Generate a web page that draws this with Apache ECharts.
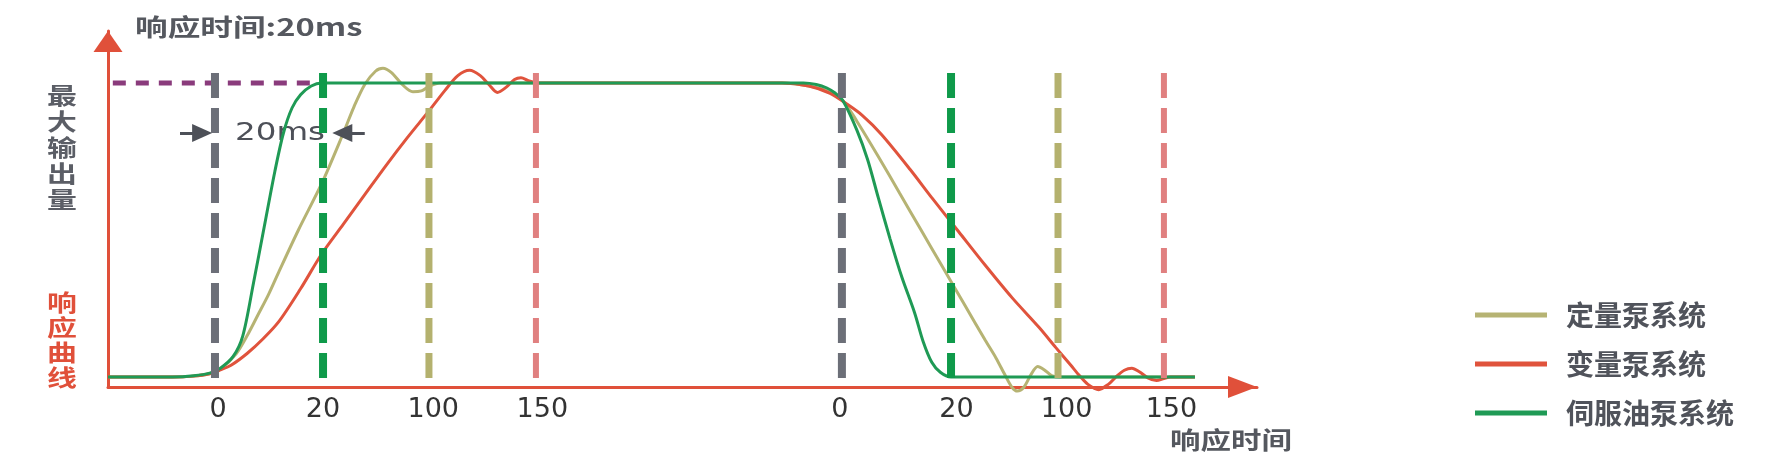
<!DOCTYPE html>
<html><head><meta charset="utf-8">
<script src="https://cdn.jsdelivr.net/npm/echarts@6/dist/echarts.min.js"></script>
<style>html,body{margin:0;padding:0;background:#fff}#c{width:1766px;height:464px}</style>
</head><body><div id="c"></div>
<script>
// ---------- data ----------
const seriesNames = ['定量泵系统', '变量泵系统', '伺服油泵系统'];
const xTickValues = [1.03, 2.01, 3.04, 4.06, 6.84, 7.93, 8.96, 9.94];
const xTickLabels = ['0', '20', '100', '150', '0', '20', '100', '150'];
const fixedPump = [[0,0],[0.6,0],[0.8,0.3],[0.95,1.1],[1.05,2.6],[1.2,8],[1.3,14],[1.4,21],[1.5,28],[1.6,36],[1.78,50],[2.0,66],[2.2,83],[2.3,92],[2.4,99.5],[2.5,104],[2.57,105],[2.65,103.5],[2.75,99.5],[2.85,97],[2.93,97.3],[3.0,98.8],[3.1,100],[6.3,100],[6.55,99],[6.75,97],[6.87,94],[7.0,87],[7.2,75],[7.4,62.5],[7.6,50],[7.8,37.5],[8.0,25],[8.2,12.5],[8.3,6.5],[8.38,1],[8.45,-3.5],[8.5,-4.8],[8.56,-3.5],[8.63,1],[8.69,3.6],[8.75,2.5],[8.82,0.5],[8.9,0],[10.16,0]];
const variablePump = [[0,0],[0.6,0],[0.8,0.3],[0.95,1.1],[1.05,2.4],[1.15,4],[1.3,8],[1.45,13],[1.6,19],[1.8,30],[2.0,42],[2.2,52],[2.4,62],[2.6,72],[2.8,81.5],[3.0,90.5],[3.15,97.5],[3.27,102.5],[3.38,104.3],[3.48,102.5],[3.56,99.5],[3.64,96.8],[3.72,98.5],[3.8,101.2],[3.86,101.8],[3.93,100.8],[4.02,100],[6.3,100],[6.55,99],[6.75,96.5],[6.9,93],[7.05,89],[7.23,82.5],[7.5,70.5],[7.7,61],[7.95,49.5],[8.2,38],[8.45,27],[8.7,17],[8.86,10],[9.0,4],[9.08,0.5],[9.16,-2.5],[9.26,-4.3],[9.35,-2.5],[9.42,0],[9.5,2.3],[9.57,3],[9.64,1.8],[9.72,-0.3],[9.8,-1.2],[9.87,-0.5],[9.93,0],[10.16,0]];
const servoPump = [[0,0],[0.6,0],[0.8,0.4],[0.95,1.3],[1.05,3],[1.17,7],[1.26,14],[1.36,32],[1.46,51],[1.56,70],[1.64,83],[1.72,91.5],[1.8,96],[1.9,99],[2.0,100],[6.5,100],[6.62,99.5],[6.72,98.3],[6.8,96.5],[6.87,94],[7.0,84],[7.1,74],[7.2,61],[7.31,47],[7.42,34],[7.54,21.8],[7.62,12],[7.7,5],[7.78,1.6],[7.88,0],[8.0,0],[10.16,0]];
const maxOutputLine = [[-0.17,100],[2.0,100]];
const guideX = [1.0, 2.01, 3.0, 4.0, 6.86, 7.88, 8.88, 9.87];
const guideRange = [103.4, -0.34];
const spanArrowsY = 83;
const spanArrowLeft = [0.673, 0.88];
const spanArrowRight = [2.40, 2.19];

// ---------- styles ----------
const curveColors = ['#b6b373', '#e0533c', '#1f9a55'];
const guideColors = ['#6c6f78', '#0f9a4a', '#b4b16e', '#e08080', '#6c6f78', '#0f9a4a', '#b4b16e', '#e08080'];
const guideWidths = [8, 8, 7, 6, 8, 8, 7, 6];
const axisRed = '#e0503a';
const textGray = '#55585f';
const CJK = 'Noto Sans CJK SC';

const chart = echarts.init(document.getElementById('c'), null, {renderer: 'canvas'});

const curveSeries = [fixedPump, variablePump, servoPump].map((d, i) => ({
  name: seriesNames[i], type: 'line', data: d, smooth: 0.3,
  symbol: 'none', clip: false, z: 3, color: curveColors[i],
  lineStyle: {color: curveColors[i], width: 3}
}));

const guideSeries = guideX.map((x, i) => ({
  name: 'guide' + i, type: 'line', data: [[x, guideRange[0]], [x, guideRange[1]]],
  symbol: 'none', clip: false, z: 5, silent: true,
  lineStyle: {color: guideColors[i], width: guideWidths[i], type: [25, 10], cap: 'butt'}
}));

const maxSeries = {
  name: 'max', type: 'line', data: maxOutputLine, symbol: 'none', clip: false, z: 2, silent: true,
  lineStyle: {color: '#8a3b7c', width: 5, type: [13, 10], cap: 'butt'},
  markLine: {
    silent: true, symbol: ['none', 'triangle'], symbolSize: [18, 20],
    label: {show: false},
    lineStyle: {color: '#4d5058', width: 3, type: 'solid'},
    data: [
      [{coord: [spanArrowLeft[0], spanArrowsY]}, {coord: [spanArrowLeft[1], spanArrowsY]}],
      [{coord: [spanArrowRight[0], spanArrowsY]}, {coord: [spanArrowRight[1], spanArrowsY]}]
    ]
  }
};

chart.setOption({
  animation: false,
  backgroundColor: '#fff',
  grid: {left: 108, right: 509, top: 31, bottom: 77, containLabel: false},
  xAxis: {
    type: 'value', min: 0, max: 10.74,
    axisLine: {onZero: false, lineStyle: {color: axisRed, width: 3},
      symbol: ['none', 'triangle'], symbolSize: [22, 29], symbolOffset: [0, -14.5]},
    axisTick: {show: false}, splitLine: {show: false},
    axisLabel: {
      customValues: xTickValues, margin: 9, fontSize: 27, fontFamily: 'DejaVu Sans', color: '#333',
      formatter: function (v) {
        let best = 0, bd = 1e9;
        xTickValues.forEach((t, i) => { const d = Math.abs(t - v); if (d < bd) { bd = d; best = i; } });
        return xTickLabels[best];
      }
    }
  },
  yAxis: {
    type: 'value', min: -3.4, max: 117.69,
    axisLine: {show: true, onZero: false, lineStyle: {color: axisRed, width: 3},
      symbol: ['none', 'triangle'], symbolSize: [29, 21], symbolOffset: [0, -10.5]},
    axisTick: {show: false}, axisLabel: {show: false}, splitLine: {show: false}
  },
  legend: {
    data: seriesNames, orient: 'vertical', left: 1470, top: 296,
    itemWidth: 72, itemHeight: 5, itemGap: 21, icon: 'rect',
    textStyle: {fontSize: 28, color: '#50535b', fontFamily: CJK, fontWeight: 'bold', padding: [0, 0, 0, 14]}
  },
  graphic: [
    {type: 'text', x: 135, y: 27, scaleX: 1.36, silent: true,
      style: {text: '响应时间:20ms', fill: textGray, fontSize: 24, fontFamily: CJK, fontWeight: 'bold', align: 'left', verticalAlign: 'middle'}},
    {type: 'text', x: 280, y: 133, scaleX: 1.3, silent: true,
      style: {text: '20ms', fill: '#4d5058', fontSize: 25, fontFamily: 'DejaVu Sans', align: 'center', verticalAlign: 'middle'}},
    {type: 'text', x: 62, y: 147, scaleX: 1.3, silent: true,
      style: {text: '最\n大\n输\n出\n量', fill: '#5b5e66', fontSize: 23, lineHeight: 26, fontFamily: CJK, fontWeight: 'bold', align: 'center', verticalAlign: 'middle'}},
    {type: 'text', x: 62, y: 340, scaleX: 1.3, silent: true,
      style: {text: '响\n应\n曲\n线', fill: axisRed, fontSize: 23, lineHeight: 25, fontFamily: CJK, fontWeight: 'bold', align: 'center', verticalAlign: 'middle'}},
    {type: 'text', x: 1170, y: 440, scaleX: 1.27, silent: true,
      style: {text: '响应时间', fill: textGray, fontSize: 24, fontFamily: CJK, fontWeight: 'bold', align: 'left', verticalAlign: 'middle'}}
  ],
  series: [maxSeries].concat(curveSeries, guideSeries)
});
</script></body></html>
